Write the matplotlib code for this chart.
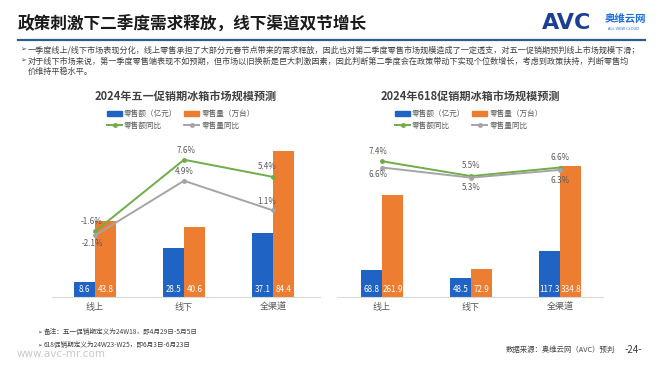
import matplotlib
matplotlib.use("Agg")
import matplotlib.pyplot as plt
import numpy as np
from matplotlib.lines import Line2D
from matplotlib.patches import Patch

plt.rcParams['font.family'] = ['Noto Sans CJK SC', 'DejaVu Sans']

# ---------------- data ----------------
categories = ['线上', '线下', '全渠道']
may_sales = [8.6, 28.5, 37.1]          # 零售额（亿元）
may_volume = [43.8, 40.6, 84.4]        # 零售量（万台）
may_sales_yoy = [-1.6, 7.6, 5.4]       # 零售额同比 %
may_volume_yoy = [-2.1, 4.9, 1.1]      # 零售量同比 %
jun_sales = [68.8, 48.5, 117.3]
jun_volume = [261.9, 72.9, 334.8]
jun_sales_yoy = [7.4, 5.5, 6.6]
jun_volume_yoy = [6.6, 5.3, 6.3]

series_names = ['零售额（亿元）', '零售量（万台）', '零售额同比', '零售量同比']
chart_titles = ['2024年五一促销期冰箱市场规模预测', '2024年618促销期冰箱市场规模预测']

BLUE = '#1F64C4'
ORANGE = '#ED7D31'
GREEN = '#70AD47'
GRAY = '#A5A5A5'
TXT = '#595959'

W, H = 660, 372
fig = plt.figure(figsize=(W / 100, H / 100), dpi=100)


def fx(px):
    return px / W


def fy(py):
    return 1 - py / H


def draw_chart(rect, xlim, ymax, sales, volume, s_yoy, v_yoy, s_off, v_off, title, title_x, leg_x):
    ax = fig.add_axes(rect)
    x = np.arange(len(categories))
    w = 0.24
    ax.bar(x - w / 2, sales, w, color=BLUE, zorder=2)
    ax.bar(x + w / 2, volume, w, color=ORANGE, zorder=2)
    ax.set_xlim(*xlim)
    ax.set_ylim(0, ymax)
    for s in ['top', 'right', 'left']:
        ax.spines[s].set_visible(False)
    ax.spines['bottom'].set_color('#D9D9D9')
    ax.spines['bottom'].set_linewidth(0.8)
    ax.set_yticks([])
    ax.set_xticks(x)
    ax.set_xticklabels(categories, fontsize=6.5, color=TXT)
    ax.tick_params(axis='x', length=0, pad=4)
    for xi, v in zip(x, sales):
        ax.annotate(f'{v}', (xi - w / 2, 0), xytext=(0, 8), textcoords='offset pixels',
                    ha='center', va='center', fontsize=5.8, color='white', zorder=5)
    for xi, v in zip(x, volume):
        ax.annotate(f'{v}', (xi + w / 2, 0), xytext=(0, 8), textcoords='offset pixels',
                    ha='center', va='center', fontsize=5.8, color='white', zorder=5)

    ax2 = ax.twinx()
    ax2.set_ylim(-10, 10)
    ax2.set_xlim(*xlim)
    ax2.axis('off')
    ax2.plot(x, s_yoy, color=GREEN, lw=1.4, marker='o', ms=2.5, zorder=3)
    ax2.plot(x, v_yoy, color=GRAY, lw=1.4, marker='o', ms=2.5, zorder=3)
    for xi, v, off in zip(x, s_yoy, s_off):
        ax2.annotate(f'{v}%', (xi, v), xytext=off, textcoords='offset pixels',
                     ha='center', va='center', fontsize=5.8, color=TXT, zorder=6)
    for xi, v, off in zip(x, v_yoy, v_off):
        ax2.annotate(f'{v}%', (xi, v), xytext=off, textcoords='offset pixels',
                     ha='center', va='center', fontsize=5.8, color=TXT, zorder=6)

    fig.text(fx(title_x), fy(96), title, ha='center', va='center', fontsize=8,
             fontweight='bold', color='#404040')
    handles = [Patch(color=BLUE),
               Line2D([], [], color=GREEN, lw=1.4, marker='o', ms=2.5),
               Patch(color=ORANGE),
               Line2D([], [], color=GRAY, lw=1.4, marker='o', ms=2.5)]
    labels = [series_names[0], series_names[2], series_names[1], series_names[3]]
    fig.legend(handles, labels, ncol=2, loc='center', bbox_to_anchor=(fx(leg_x), fy(120)),
               frameon=False, fontsize=5.5, handlelength=1.9, handleheight=0.5,
               handletextpad=0.3, columnspacing=0.9, labelspacing=0.45, labelcolor=TXT)
    return ax


draw_chart([fx(52), fy(297), fx(268), 156 / H], (-0.483, 2.528), 90,
           may_sales, may_volume, may_sales_yoy, may_volume_yoy,
           [(-3, 10), (2, 9), (-6, 10)], [(-3, -8), (0, 9), (-6, 9)],
           chart_titles[0], 186, 181)
draw_chart([fx(337), fy(297), fx(266), 156 / H], (-0.506, 2.483), 400,
           jun_sales, jun_volume, jun_sales_yoy, jun_volume_yoy,
           [(-4, 10), (0, 11), (0, 10)], [(-4, -7), (0, -10), (0, -11)],
           chart_titles[1], 470, 469)

# ---------------- header ----------------
fig.text(fx(18), fy(25), '政策刺激下二季度需求释放，线下渠道双节增长', fontsize=12,
         fontweight='bold', color='#1A1A1A', ha='left', va='center')
fig.add_artist(Line2D([fx(18), fx(645)], [fy(40), fy(40)], color='#2F5C8F', lw=1.6))

bullets = [
    (50, '一季度线上/线下市场表现分化，线上零售承担了大部分元春节点带来的需求释放，因此也对第二季度零售市场规模造成了一定透支，对五一促销期预判线上市场规模下滑；', True),
    (61, '对于线下市场来说，第一季度零售端表现不如预期，但市场以旧换新是巨大刺激因素，因此判断第二季度会在政策带动下实现个位数增长，考虑到政策扶持，判断零售均', True),
    (71, '价维持平稳水平。', False),
]
for y, t, arrow in bullets:
    if arrow:
        fig.text(fx(20), fy(y), '➢', fontsize=5, color='#404040', ha='left', va='center',
                 family=['DejaVu Sans'])
    fig.text(fx(28), fy(y), t, fontsize=5.85, color='#404040', ha='left', va='center')

# logo
fig.text(fx(542), fy(23), 'AVC', fontsize=16, fontweight='bold', color='#1C3F94',
         ha='left', va='center', family=['DejaVu Sans'])
fig.text(fx(605), fy(19), '奥维云网', fontsize=7.5, fontweight='bold', color='#1E6FD9',
         ha='left', va='center')
fig.text(fx(624), fy(29), 'ALL VIEW CLOUD', fontsize=2.6, color='#1E6FD9',
         ha='center', va='center', family=['DejaVu Sans'])

# ---------------- footer ----------------
notes = [(332, '备注：五一促销期定义为24W18，即4月29日-5月5日'),
         (345, '618促销期定义为24W23-W25，即6月3日-6月23日')]
for y, t in notes:
    fig.text(fx(37), fy(y), '➢', fontsize=4, color='#404040', ha='left', va='center',
             family=['DejaVu Sans'])
    fig.text(fx(44), fy(y), t, fontsize=4.8, color='#404040', ha='left', va='center')
fig.text(fx(17), fy(354), 'www.avc-mr.com', fontsize=7.5, color='#C8C8C8', ha='left',
         va='center', family=['DejaVu Sans'])
fig.text(fx(615), fy(350), '数据来源：奥维云网（AVC）预判', fontsize=5.3, color='#404040',
         ha='right', va='center')
fig.text(fx(633), fy(350), '-24-', fontsize=7, color='#404040', ha='center', va='center')

fig.savefig('out.png', dpi=100)
